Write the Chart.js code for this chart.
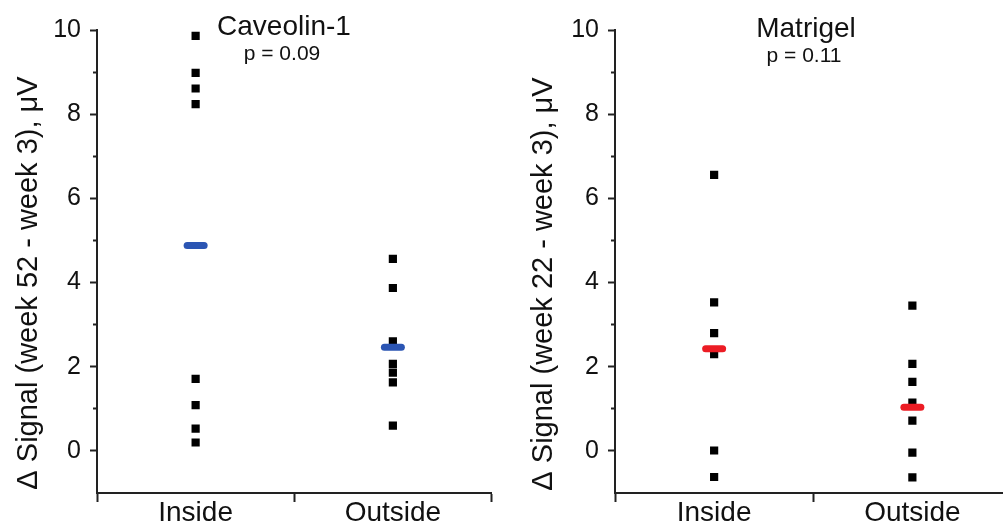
<!DOCTYPE html>
<html>
<head>
<meta charset="utf-8">
<script src="https://cdn.jsdelivr.net/npm/chart.js@4/dist/chart.umd.min.js"></script>
<style>
  html, body { margin: 0; padding: 0; background: #fff; overflow: hidden; }
  #left { position: absolute; left: 0; top: 0; width: 500px; height: 526px; overflow: hidden; }
  #right { position: absolute; left: 500px; top: 0; width: 503px; height: 526px; overflow: hidden; }
</style>
</head>
<body>
<div id="left"><canvas id="cav" width="507" height="526"></canvas></div>
<div id="right"><canvas id="mat" width="527" height="526"></canvas></div>
<script>
// values
const categories = ['Inside', 'Outside'];
const yTickLabels = [0, 2, 4, 6, 8, 10];

const cavInside = [9.86, 8.98, 8.61, 8.24, 1.71, 1.09, 0.53, 0.2];
const cavOutside = [4.56, 3.87, 2.6, 2.07, 1.86, 1.63, 0.6];
const cavMeans = [4.88, 2.46];

const matInside = [6.56, 3.53, 2.8, 2.3, 0.01, -0.62];
const matOutside = [3.45, 2.07, 1.64, 1.15, 0.72, -0.04, -0.63];
const matMeans = [2.43, 1.04];

Chart.defaults.font.family = '"Liberation Sans", Arial, sans-serif';
Chart.defaults.color = '#111';

const AXIS = '#222';

// titles, p-value and rotated y title
const panelText = {
  id: 'panelText',
  beforeDatasetDraw(chart, args) {
    if (chart.data.datasets[args.index].isMean) chart.ctx.lineCap = 'round';
  },
  afterDraw(chart, args, o) {
    const ctx = chart.ctx;
    ctx.save();
    ctx.fillStyle = '#111';
    ctx.textAlign = 'center';
    ctx.textBaseline = 'alphabetic';
    ctx.font = '28px "Liberation Sans", Arial';
    ctx.fillText(o.title, o.titleX, o.titleY);
    ctx.font = '21px "Liberation Sans", Arial';
    ctx.fillText(o.sub, o.titleX - 2, o.subY);
    ctx.translate(o.axisX, o.axisY);
    ctx.rotate(-Math.PI / 2);
    ctx.font = '29px "Liberation Sans", Arial';
    ctx.fillText(o.axisTitle, 0, 0);
    ctx.restore();
  }
};

function points(cat, vals) {
  return vals.map(v => ({ x: cat, y: v }));
}

function makeChart(id, inside, outside, means, color, text, yWidth, padRight) {
  const ctx = document.getElementById(id).getContext('2d');
  return new Chart(ctx, {
    type: 'scatter',
    data: {
      datasets: [
        {
          isMean: true,
          data: categories.map((c, i) => ({ x: c, y: means[i] })),
          pointStyle: 'line',
          pointRadius: 8.5,
          pointBorderWidth: 7,
          borderWidth: 7,
          pointBorderColor: color,
          borderColor: color,
          pointBackgroundColor: color,
          backgroundColor: color,
        },
        {
          data: points(categories[0], inside).concat(points(categories[1], outside)),
          pointStyle: 'rect',
          pointRadius: 5.8,
          pointBorderWidth: 0,
          borderWidth: 0,
          pointBackgroundColor: '#000',
          backgroundColor: '#000',
          borderColor: '#000',
        },
      ],
    },
    options: {
      responsive: false,
      animation: false,
      events: [],
      devicePixelRatio: 1,
      layout: { padding: { top: 30, left: 0, right: padRight, bottom: 0 } },
      plugins: {
        legend: { display: false },
        tooltip: { enabled: false },
        panelText: text,
      },
      scales: {
        x: {
          type: 'category',
          labels: categories,
          offset: true,
          afterFit(s) { s.height = 33; },
          grid: {
            offset: true,
            drawOnChartArea: false,
            tickLength: 9,
            tickWidth: 2,
            tickColor: AXIS,
          },
          border: { color: AXIS, width: 2 },
          ticks: { font: { size: 28 }, color: '#111', padding: -6 },
        },
        y: {
          min: -1,
          max: 10,
          afterFit(s) { s.width = yWidth; },
          ticks: {
            stepSize: 1,
            autoSkip: false,
            padding: 9,
            font: { size: 25 },
            color: '#111',
            callback: v => (yTickLabels.includes(v) ? v : ''),
          },
          grid: {
            drawOnChartArea: false,
            tickLength: 7,
            tickWidth: 2,
            tickColor: c => (c.tick && c.tick.value === -1 ? 'rgba(0,0,0,0)' : AXIS),
            tickBorderDash: c => (c.tick && Math.abs(c.tick.value % 2) === 1 ? [0, 3, 4, 20] : []),
          },
          border: { color: AXIS, width: 2 },
        },
      },
    },
    plugins: [panelText],
  });
}

makeChart('cav', cavInside, cavOutside, cavMeans, '#2b55b3', {
  title: 'Caveolin-1', sub: 'p = 0.09', titleX: 284, titleY: 35, subY: 60,
  axisTitle: 'Δ Signal (week 52 - week 3), μV', axisX: 37, axisY: 283,
}, 97, 7);

makeChart('mat', matInside, matOutside, matMeans, '#ec1c24', {
  title: 'Matrigel', sub: 'p = 0.11', titleX: 306, titleY: 37, subY: 62,
  axisTitle: 'Δ Signal (week 22 - week 3), μV', axisX: 52, axisY: 284,
}, 115, 9);
</script>
</body>
</html>
